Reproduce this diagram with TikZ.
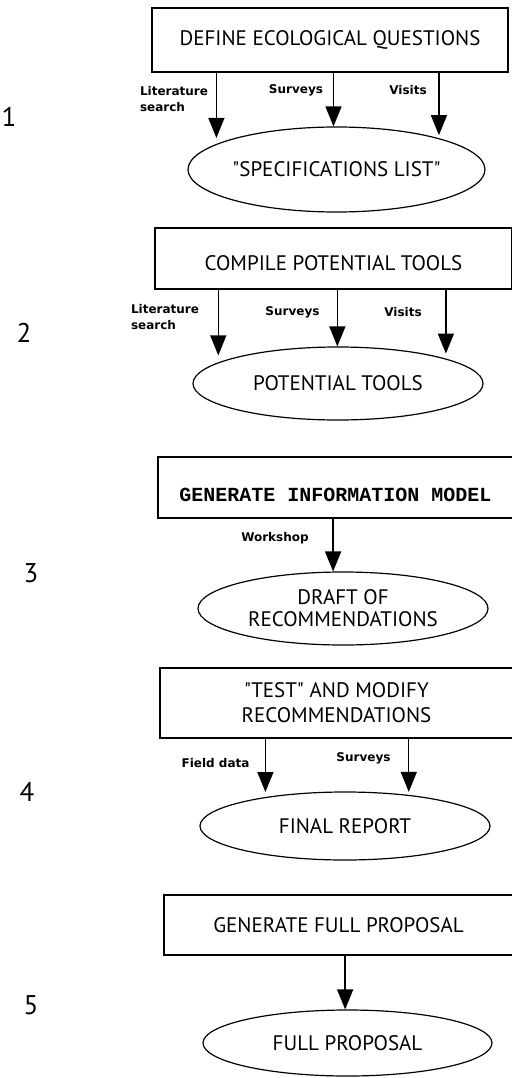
\documentclass[tikz,border=0pt]{standalone}
\usepackage{fontspec}
\setmainfont{PT Sans}
\newfontfamily\labfont{DejaVu Sans}
\newfontfamily\courfont{Liberation Mono}
\usetikzlibrary{shapes.geometric,arrows.meta}

\begin{document}
\begin{tikzpicture}[x=1pt,y=-1pt,
	stepbox/.style={draw,line width=1.2pt,rectangle,inner sep=0pt,align=center,font=\fontsize{21}{25}\selectfont},
	outcome/.style={draw,line width=1.2pt,ellipse,inner sep=0pt,align=center,font=\fontsize{21}{22}\selectfont},
	lab/.style={font=\labfont\bfseries\fontsize{12}{16}\selectfont,inner sep=0pt},
	num/.style={font=\fontsize{27}{27}\selectfont,inner sep=0pt},
	flow/.style={-{Triangle[length=20pt,width=16pt]},line width=1.4pt}]
	\useasboundingbox (0,0) rectangle (511,1078);

	% step numbers
	\draw (9,117) node[num] (n1){1};
	\draw (24,333) node[num] (n2){2};
	\draw (31,573) node[num] (n3){3};
	\draw (27,792) node[num] (n4){4};
	\draw (31,1005) node[num] (n5){5};

	% boxes
	\draw (330,40) node[stepbox,minimum width=356pt,minimum height=64pt] (q1){DEFINE ECOLOGICAL QUESTIONS};
	\draw (333.5,258.5) node[stepbox,minimum width=357pt,minimum height=61pt,text height=24pt,text depth=0pt] (q2){COMPILE POTENTIAL TOOLS};
	\draw (335.5,487.5) node[stepbox,minimum width=355pt,minimum height=61pt,text height=27pt,text depth=0pt,font=\courfont\bfseries\fontsize{20}{24}\selectfont] (q3){GENERATE INFORMATION MODEL};
	\draw (336.5,703) node[stepbox,minimum width=353pt,minimum height=70pt] (q4){\textquotedbl TEST\textquotedbl{} AND MODIFY\\RECOMMENDATIONS};
	\draw (338.5,925) node[stepbox,minimum width=349pt,minimum height=60pt] (q5){GENERATE FULL PROPOSAL};

	% ellipses
	\draw (336.5,169.5) node[outcome,minimum width=297pt,minimum height=85pt] (e1){\textquotedbl SPECIFICATIONS LIST\textquotedbl};
	\draw (338,383.5) node[outcome,minimum width=290pt,minimum height=73pt] (e2){POTENTIAL TOOLS};
	\draw (343,608.5) node[outcome,minimum width=290pt,minimum height=73pt] (e3){DRAFT OF\\RECOMMENDATIONS};
	\draw (345,826) node[outcome,minimum width=290pt,minimum height=68pt] (e4){FINAL REPORT};
	\draw (347.5,1043) node[outcome,minimum width=289pt,minimum height=66pt] (e5){FULL PROPOSAL};

	% labels
	\draw (174,99) node[lab,align=left] (ls1){Literature\\search};
	\draw (296,90) node[lab] (sv1){Surveys};
	\draw (408,90) node[lab] (vi1){Visits};
	\draw (165,317) node[lab,align=left] (ls2){Literature\\search};
	\draw (292.5,312) node[lab] (sv2){Surveys};
	\draw (403,312) node[lab] (vi2){Visits};
	\draw (275,538) node[lab] (ws3){Workshop};
	\draw (215.5,763) node[lab] (fd4){Field data};
	\draw (363.5,758) node[lab] (sv4){Surveys};

	% arrows
	\draw[flow,shorten >=6pt] (q1.south -| e1.168.4) -- (e1.168.4);
	\draw[flow] (q1.south -| e1.94.7) -- (e1.94.7);
	\draw[flow,shorten >=3pt] (q1.south -| e1.17) -- (e1.17);

	\draw[flow,shorten >=7pt] (q2.south -| e2.170.3) -- (e2.170.3);
	\draw[flow] (q2.south -| e2.91.6) -- (e2.91.6);
	\draw[flow,shorten >=5pt] (q2.south -| e2.13.7) -- (e2.13.7);

	\draw[flow] (q3.south -| e3.105.4) -- (e3.105.4);

	\draw[flow,shorten >=5pt] (q4.south -| e4.160.8) -- (e4.160.8);
	\draw[flow,shorten >=3pt] (q4.south -| e4.26.3) -- (e4.26.3);

	\draw[flow] (q5.south -| e5.94.3) -- (e5.94.3);
\end{tikzpicture}
\end{document}
